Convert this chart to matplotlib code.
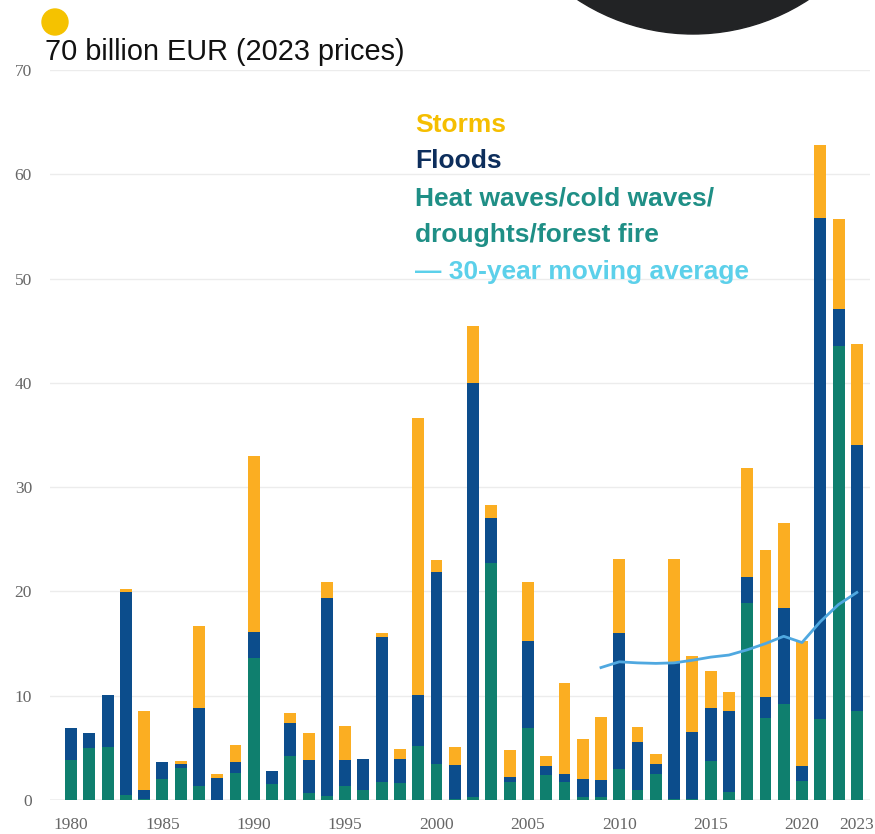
import numpy as np
import matplotlib
matplotlib.use('Agg')
import matplotlib.pyplot as plt
from matplotlib.patches import Ellipse

# data (billion EUR, 2023 prices)
years = np.arange(1980, 2024)
heat = [3.8, 4.95, 5.1, 0.5, 0.1, 2.0, 3.1, 1.35, 0.0, 2.6,
        13.65, 1.5, 4.2, 0.65, 0.4, 1.35, 1.0, 1.75, 1.6, 5.2,
        3.45, 0.1, 0.3, 22.7, 1.75, 6.95, 2.4, 1.75, 0.3, 0.3,
        3.0, 0.95, 2.45, 0.05, 0.1, 3.7, 0.8, 18.85, 7.9, 9.2,
        1.8, 7.75, 43.5, 8.55]
floods = [3.1, 1.5, 5.0, 19.4, 0.9, 1.6, 0.4, 7.5, 2.1, 1.0,
          2.5, 1.3, 3.15, 3.2, 19.0, 2.5, 2.9, 13.9, 2.3, 4.9,
          18.45, 3.25, 39.7, 4.3, 0.5, 8.3, 0.9, 0.7, 1.7, 1.6,
          13.05, 4.65, 1.05, 13.2, 6.4, 5.1, 7.75, 2.55, 1.95, 9.2,
          1.5, 48.05, 3.6, 25.5]
storms = [0, 0, 0, 0.3, 7.5, 0, 0.25, 7.85, 0.35, 1.7,
          16.85, 0, 0.95, 2.55, 1.5, 3.25, 0, 0.35, 1.0, 26.5,
          1.1, 1.75, 5.5, 1.3, 2.55, 5.65, 0.95, 8.8, 3.85, 6.1,
          7.05, 1.4, 0.9, 9.85, 7.3, 3.6, 1.85, 10.4, 14.15, 8.2,
          11.9, 7.0, 8.6, 9.65]
ma_years = np.arange(2009, 2024)
moving_avg = [12.7, 13.25, 13.15, 13.1, 13.15, 13.4, 13.7, 13.9, 14.4,
              15.0, 15.7, 15.1, 17.1, 18.75, 19.9]
xticks = [1980, 1985, 1990, 1995, 2000, 2005, 2010, 2015, 2020, 2023]

c_heat = '#0f7f6e'
c_flood = '#0c4d8c'
c_storm = '#fbae22'
c_line = '#4fa8e0'

W, H = 875, 834
fig = plt.figure(figsize=(W / 100, H / 100), dpi=100)
ax = fig.add_axes([50 / W, 34 / H, 820 / W, 730 / H])

heat = np.array(heat)
floods = np.array(floods)
storms = np.array(storms)
bw = 0.65
ax.bar(years, heat, bw, color=c_heat, zorder=2)
ax.bar(years, floods, bw, bottom=heat, color=c_flood, zorder=2)
ax.bar(years, storms, bw, bottom=heat + floods, color=c_storm, zorder=2)
ax.plot(ma_years, moving_avg, color=c_line, lw=2, zorder=3)

ax.set_xlim(1978.85, 2023.72)
ax.set_ylim(0, 70)
ax.set_yticks(range(0, 71, 10))
ax.set_xticks(xticks)
for v in range(10, 71, 10):
    ax.axhline(v, color='#ececec', lw=1, zorder=0)
ax.axhline(0, color='#b5b5b5', lw=1, zorder=1)
for s in ax.spines.values():
    s.set_visible(False)
ax.tick_params(length=0, labelcolor='#666666')
ax.tick_params(axis='x', pad=12, labelsize=12.5)
ax.tick_params(axis='y', pad=13, labelsize=12.5)
for lab in ax.get_xticklabels() + ax.get_yticklabels():
    lab.set_family('Liberation Serif')

# decorations
fig.patches.append(Ellipse((693 / W, 1 + 177 / H), 422 / W, 422 / H,
                           transform=fig.transFigure, color='#222325', zorder=5))
fig.patches.append(Ellipse((55 / W, 1 - 22 / H), 26 / W, 26 / H,
                           transform=fig.transFigure, color='#f5c200', zorder=5))
fig.text(45 / W, 1 - 52 / H, '70 billion EUR (2023 prices)', fontsize=20.8,
         family='Liberation Sans', va='center', ha='left', color='#111111')

legend_items = [('Storms', '#f5be00', 125),
                ('Floods', '#0d2e5c', 161),
                ('Heat waves/cold waves/', '#1f8f86', 198),
                ('droughts/forest fire', '#1f8f86', 235),
                ('— 30-year moving average', '#5cd0ea', 272)]
for txt, col, yp in legend_items:
    fig.text(415 / W, 1 - yp / H, txt, fontsize=19, fontweight='bold',
             family='Liberation Sans', color=col, va='center', ha='left')

fig.savefig('out.png', dpi=100)
